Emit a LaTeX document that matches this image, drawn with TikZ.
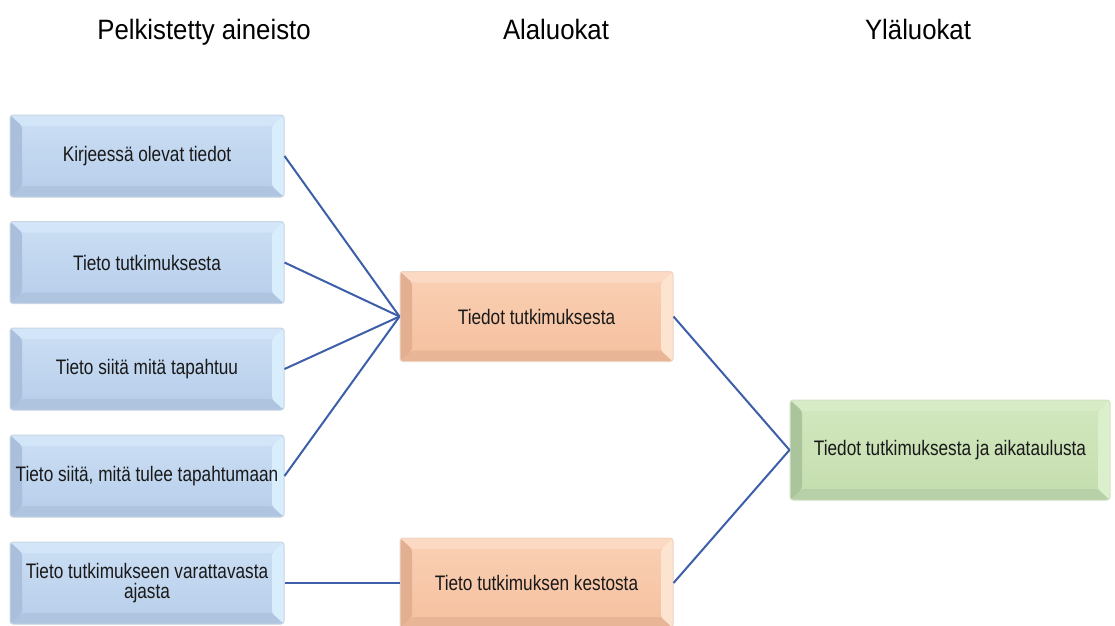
\documentclass[tikz,border=0pt]{standalone}
\usepackage{fontspec}
\setmainfont{Liberation Sans}
\newfontfamily\headfont[FakeStretch=0.92]{Liberation Sans}
\newfontfamily\boxfont[FakeStretch=0.82]{Liberation Sans}
\usetikzlibrary{calc}

% blue boxes
\definecolor{blueFaceT}{HTML}{CCDFF4}
\definecolor{blueFaceB}{HTML}{B6CDEA}
\definecolor{blueL}{HTML}{A9BFDB}
\definecolor{blueT}{HTML}{D3E5F8}
\definecolor{blueR}{HTML}{D9EEFC}
\definecolor{blueB}{HTML}{AEC4DF}
\definecolor{blueEdge}{HTML}{C9D6E4}
% orange boxes
\definecolor{orangeFaceT}{HTML}{FAD0B4}
\definecolor{orangeFaceB}{HTML}{F5C09F}
\definecolor{orangeL}{HTML}{E3AF91}
\definecolor{orangeT}{HTML}{FBD9C3}
\definecolor{orangeR}{HTML}{FDE4D0}
\definecolor{orangeB}{HTML}{E8B596}
\definecolor{orangeEdge}{HTML}{EDD5C6}
% green box
\definecolor{greenFaceT}{HTML}{D2E8BF}
\definecolor{greenFaceB}{HTML}{C4DDAE}
\definecolor{greenL}{HTML}{AAC49C}
\definecolor{greenT}{HTML}{D7EBC6}
\definecolor{greenR}{HTML}{DCEFCC}
\definecolor{greenB}{HTML}{B8D0A7}
\definecolor{greenEdge}{HTML}{D3E3C8}
% connectors
\definecolor{lineblue}{HTML}{3D5FA9}

\tikzset{
  bevelbox/.style={
    rectangle, rounded corners=3pt, draw=#1Edge, line width=1pt,
    top color=#1FaceT, bottom color=#1FaceB,
    inner sep=0pt, align=center, text=black!90,
    font=\boxfont\fontsize{21}{20}\selectfont,
    path picture={
      \path (path picture bounding box.north west) coordinate (pNW)
            (path picture bounding box.north east) coordinate (pNE)
            (path picture bounding box.south west) coordinate (pSW)
            (path picture bounding box.south east) coordinate (pSE);
      \coordinate (iNW) at ($(pNW)+(12pt,-11pt)$);
      \coordinate (iNE) at ($(pNE)+(-12pt,-11pt)$);
      \coordinate (iSW) at ($(pSW)+(12pt,11pt)$);
      \coordinate (iSE) at ($(pSE)+(-12pt,11pt)$);
      \fill[#1T] (pNW) -- (pNE) -- (iNE) -- (iNW) -- cycle;
      \fill[#1B] (pSW) -- (pSE) -- (iSE) -- (iSW) -- cycle;
      \fill[#1L] (pNW) -- (pSW) -- (iSW) -- (iNW) -- cycle;
      \fill[#1R] (pNE) -- (pSE) -- (iSE) -- (iNE) -- cycle;
    }
  },
  leftbox/.style={bevelbox=blue, minimum width=274pt, minimum height=82pt},
  midbox/.style={bevelbox=orange, minimum width=273pt, minimum height=90pt},
  topbox/.style={bevelbox=green, minimum width=320pt, minimum height=100pt},
  head/.style={font=\headfont\fontsize{28}{30}\selectfont, anchor=base},
  link/.style={draw=lineblue, line width=2pt}
}

\begin{document}
\begin{tikzpicture}[x=1pt, y=-1pt]
\useasboundingbox[fill=white] (0,0) rectangle (1115,625);

% column headings
\node[head] (hLeft)  at (204,39) {Pelkistetty aineisto};
\node[head] (hMid)   at (556,39) {Alaluokat};
\node[head] (hRight) at (918,39) {Yläluokat};

% reduced expressions
\node[leftbox] (a1) at (147,156)   {Kirjeessä olevat tiedot};
\node[leftbox] (a2) at (147,262.5) {Tieto tutkimuksesta};
\node[leftbox] (a3) at (147,369)   {Tieto siitä mitä tapahtuu};
\node[leftbox] (a4) at (147,476)   {Tieto siitä, mitä tulee tapahtumaan};
\node[leftbox] (a5) at (147,583)   {Tieto tutkimukseen varattavasta\\ajasta};

% subcategories
\node[midbox] (b1) at (536.5,316.5) {Tiedot tutkimuksesta};
\node[midbox] (b2) at (536.5,583)   {Tieto tutkimuksen kestosta};

% main category
\node[topbox] (c1) at (950,450) {Tiedot tutkimuksesta ja aikataulusta};

% connectors
\foreach \n in {a1,a2,a3,a4}
  \draw[link] (\n.east) -- (b1.west);
\draw[link] (a5.east) -- (b2.west);
\draw[link] (b1.east) -- (c1.west);
\draw[link] (b2.east) -- (c1.west);
\end{tikzpicture}
\end{document}
